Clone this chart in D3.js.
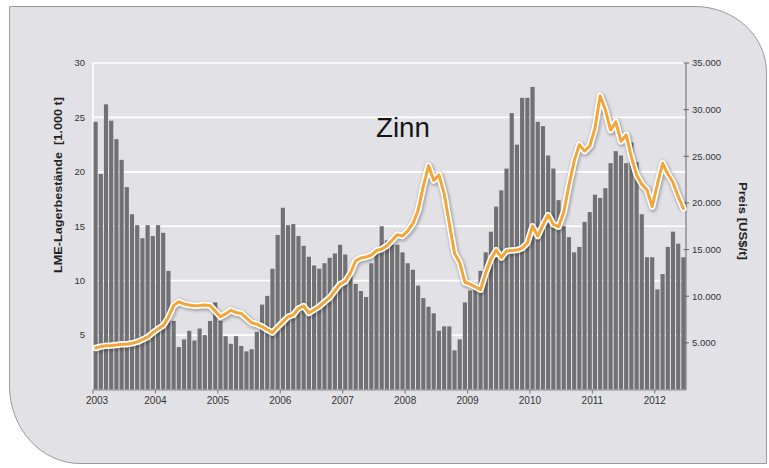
<!DOCTYPE html>
<html>
<head>
<meta charset="utf-8">
<script src="https://cdn.jsdelivr.net/npm/d3@7"></script>
<style>
html,body{margin:0;padding:0;background:#fff;}
svg{display:block;}
text{font-family:"Liberation Sans", Arial, sans-serif;}
</style>
</head>
<body>
<svg id="chart" width="769" height="468"></svg>
<script>
// ---- data ----
const startYear = 2003;
const startMonth = 1;
// LME stocks, 1,000 t (monthly, Jan 2003 - Jun 2012)
const stocks = [
 24.6,19.8,26.2,24.7,23.0,21.1,18.6,16.1,15.1,13.9,15.1,14.1,
 15.1,14.4,10.9,6.3,3.9,4.6,5.4,4.5,5.6,5.0,6.3,8.0,
 6.3,4.9,4.2,4.9,4.0,3.5,3.7,5.3,7.8,8.6,11.1,14.2,
 16.7,15.1,15.2,14.1,13.2,12.2,11.4,11.1,11.6,12.1,12.5,13.3,
 12.4,10.4,9.7,9.05,8.5,11.6,13.0,15.0,13.7,13.3,13.3,12.6,
 11.6,11.0,9.55,8.4,7.6,7.0,5.4,5.8,5.8,3.6,4.6,8.0,
 9.1,9.4,10.9,12.6,14.5,16.8,18.3,20.3,25.4,22.5,26.8,26.8,
 27.8,24.6,24.2,21.5,20.3,17.4,15.0,14.0,12.6,13.1,15.4,16.3,
 17.9,17.6,18.5,20.8,21.9,21.5,20.8,22.7,20.9,16.1,12.15,12.15,
 9.2,10.6,13.1,14.5,13.4,12.15
];
// Price, US$/t (monthly)
const prices = [
 4450,4600,4700,4720,4780,4840,4850,4950,5100,5350,5620,6100,
 6500,6850,7750,9000,9400,9170,9050,8980,9000,9050,9000,8400,
 7800,8100,8500,8250,8150,7650,7150,7000,6750,6400,6100,6700,
 7250,7800,8000,8700,8950,8200,8550,8900,9400,9850,10600,11300,
 11600,12500,13800,14100,14200,14400,14900,15050,15400,16000,16600,16450,
 17000,17800,19200,21800,24000,22400,23000,21000,17800,14600,13600,11500,
 11300,11000,10700,12500,14000,14950,14150,14850,14900,14950,15150,15700,
 17500,16450,17650,18700,17700,17450,19000,21900,24500,26250,25550,26100,
 28000,31500,30000,27800,28700,26600,27300,24900,23000,22000,21400,19600,
 22000,24250,23100,22200,20700,19400
];
const yearLabels = ["2003","2004","2005","2006","2007","2008","2009","2010","2011","2012"];
const leftTicks = [5,10,15,20,25,30];
const rightTicks = [5000,10000,15000,20000,25000,30000,35000];
const leftTitle = "LME-Lagerbestände  [1.000 t]";
const rightTitle = "Preis [US$/t]";
const chartTitle = "Zinn";

// categories (months)
const months = stocks.map((_, i) => new Date(startYear, startMonth - 1 + i, 1));

// ---- layout ----
const svg = d3.select("#chart");
const L = 93, R = 686, T = 63, B = 389.5;

const defs = svg.append("defs");
const blur = defs.append("filter").attr("id","sh").attr("x","-20%").attr("y","-20%").attr("width","140%").attr("height","140%");
blur.append("feGaussianBlur").attr("stdDeviation",1.6);

// panel
svg.append("path")
  .attr("d","M9.5,6.5 H695 A71.5,66 0 0 1 766.5,72.5 V463.5 H80 A70.5,78 0 0 1 9.5,385.5 Z")
  .attr("fill","#e2e2e6")
  .attr("stroke","#9a9a9c")
  .attr("stroke-width",1);

const x = d3.scaleBand().domain(d3.range(stocks.length)).range([L, R]).paddingInner(0.2).paddingOuter(0.1);
const yL = d3.scaleLinear().domain([0,30]).range([B, T]);
const yR = d3.scaleLinear().domain([0,35000]).range([B, T]);

// gridlines
svg.append("g").selectAll("line").data(leftTicks).join("line")
  .attr("x1", L).attr("x2", R)
  .attr("y1", d => yL(d)).attr("y2", d => yL(d))
  .attr("stroke","#ffffff").attr("stroke-width",1.6);

// left axis line (white)
svg.append("line").attr("x1",L).attr("x2",L).attr("y1",T).attr("y2",B)
  .attr("stroke","#ffffff").attr("stroke-width",1.6);

// bars
svg.append("g").selectAll("rect").data(stocks).join("rect")
  .attr("x", (d,i) => x(i))
  .attr("width", x.bandwidth())
  .attr("y", d => yL(d))
  .attr("height", d => B - yL(d))
  .attr("fill","#717174");

// bottom axis
const xTickPos = yearLabels.map((y,k) => x(12*k) - x.step()*x.paddingInner()/2);
svg.append("line").attr("x1",L).attr("x2",R).attr("y1",B+0.5).attr("y2",B+0.5)
  .attr("stroke","#8a8a8c").attr("stroke-width",1);
svg.append("g").selectAll("line").data(xTickPos).join("line")
  .attr("x1",d=>d).attr("x2",d=>d).attr("y1",B).attr("y2",B+4)
  .attr("stroke","#777").attr("stroke-width",1);
svg.append("g").selectAll("text").data(yearLabels).join("text")
  .attr("x",(d,k) => Math.max(xTickPos[k], 97))
  .attr("y", 404)
  .attr("text-anchor","middle")
  .attr("font-size","10px")
  .attr("fill","#333")
  .text(d => d);

// left tick labels
svg.append("g").selectAll("text").data(leftTicks).join("text")
  .attr("x", 85).attr("y", d => yL(d) + 3.3)
  .attr("text-anchor","end")
  .attr("font-size","9.5px")
  .attr("fill","#333")
  .text(d => d);

// right axis
svg.append("line").attr("x1",R).attr("x2",R).attr("y1",T).attr("y2",B+0.5)
  .attr("stroke","#666").attr("stroke-width",1);
svg.append("g").selectAll("line").data(rightTicks).join("line")
  .attr("x1",R-2.5).attr("x2",R+3).attr("y1",d=>yR(d)).attr("y2",d=>yR(d))
  .attr("stroke","#666").attr("stroke-width",1);
const fmt = d3.formatLocale({decimal:",", thousands:".", grouping:[3], currency:["","$"]}).format(",d");
svg.append("g").selectAll("text").data(rightTicks).join("text")
  .attr("x", 692).attr("y", d => yR(d) + 3.3)
  .attr("text-anchor","start")
  .attr("font-size","9.5px")
  .attr("fill","#333")
  .text(d => fmt(d));

// price line
const line = d3.line()
  .x((d,i) => x(i) + x.bandwidth()/2)
  .y(d => yR(d))
  .curve(d3.curveLinear);
svg.append("path").attr("d", line(prices))
  .attr("fill","none").attr("stroke","#000").attr("stroke-opacity",0.28)
  .attr("stroke-width",8).attr("stroke-linejoin","round").attr("filter","url(#sh)")
  .attr("transform","translate(0.8,1.2)");
svg.append("path").attr("d", line(prices))
  .attr("fill","none").attr("stroke","#ffffff")
  .attr("stroke-width",6.5).attr("stroke-linejoin","round").attr("stroke-linecap","round");
svg.append("path").attr("d", line(prices))
  .attr("fill","none").attr("stroke","#f3a53a")
  .attr("stroke-width",3).attr("stroke-linejoin","round").attr("stroke-linecap","round");

// titles
svg.append("text")
  .attr("transform","translate(62,185) rotate(-90)")
  .attr("text-anchor","middle")
  .attr("font-size","11px").attr("font-weight","bold")
  .attr("fill","#222")
  .attr("textLength",176).attr("lengthAdjust","spacingAndGlyphs")
  .attr("xml:space","preserve")
  .text(leftTitle);
svg.append("text")
  .attr("transform","translate(739,221) rotate(90)")
  .attr("text-anchor","middle")
  .attr("font-size","11px").attr("font-weight","bold")
  .attr("fill","#222")
  .attr("textLength",78).attr("lengthAdjust","spacingAndGlyphs")
  .text(rightTitle);
svg.append("text")
  .attr("x", 403).attr("y", 137)
  .attr("text-anchor","middle")
  .attr("font-size","28.5px")
  .attr("fill","#151515")
  .attr("textLength",54).attr("lengthAdjust","spacingAndGlyphs")
  .text(chartTitle);
</script>
</body>
</html>
